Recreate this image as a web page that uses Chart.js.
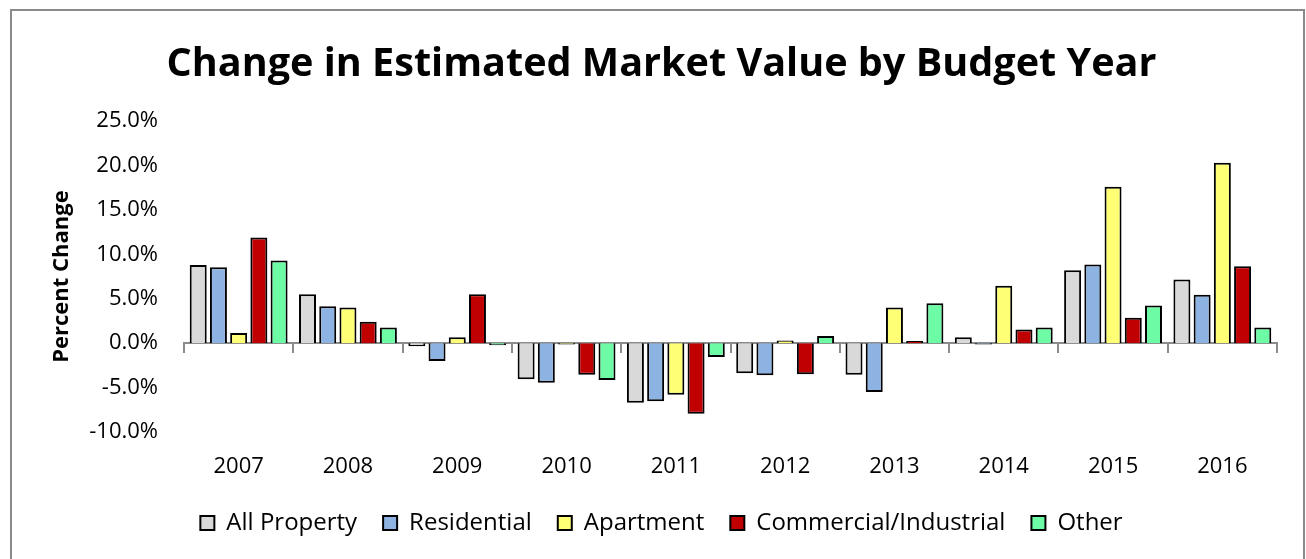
<!DOCTYPE html>
<html>
<head>
<meta charset="utf-8">
<script src="https://cdn.jsdelivr.net/npm/chart.js@4.4.1/dist/chart.umd.min.js"></script>
<style>
  html, body { margin: 0; padding: 0; background: #fff; }
  #wrap { position: absolute; left: 0; top: 0; width: 1306px; height: 559px; }
  #frame { position: absolute; left: 10px; top: 9px; width: 1291px; height: 560px;
           border: 2px solid #8a8a8a; border-bottom: none; pointer-events: none; }
</style>
</head>
<body>
<div id="wrap"><canvas id="c" width="1306" height="559"></canvas></div>
<div id="frame"></div>
<script>
const years = ['2007','2008','2009','2010','2011','2012','2013','2014','2015','2016'];
const allProperty = [8.8, 5.5, -0.35, -4.05, -6.7, -3.4, -3.55, 0.65, 8.2, 7.15];
const residential = [8.55, 4.15, -2.0, -4.45, -6.55, -3.6, -5.5, -0.15, 8.85, 5.45];
const apartment = [1.15, 4.0, 0.65, -0.15, -5.8, 0.3, 4.0, 6.45, 17.6, 20.3];
const commercial = [11.9, 2.4, 5.5, -3.55, -7.95, -3.5, 0.25, 1.55, 2.85, 8.65];
const other = [9.3, 1.75, -0.25, -4.15, -1.55, 0.8, 4.5, 1.75, 4.25, 1.75];
const seriesNames = ['All Property','Residential','Apartment','Commercial/Industrial','Other'];
const yTicks = [-10, -5, 0, 5, 10, 15, 20, 25];

const colors = ['#d9d9d9', '#8db3e2', '#ffff75', '#c00000', '#6efba6'];
const FONT = "'Open Sans', 'Noto Sans', sans-serif";

const seriesData = [allProperty, residential, apartment, commercial, other];
const datasets = seriesData.map((d, i) => ({
  label: seriesNames[i],
  data: d,
  backgroundColor: colors[i],
  borderColor: '#000',
  borderWidth: 2,
  categoryPercentage: 0.925,
  barPercentage: 0.84,
  xAxisID: 'x',
  yAxisID: 'y'
}));

new Chart(document.getElementById('c'), {
  type: 'bar',
  data: { labels: years, datasets },
  options: {
    responsive: false,
    animation: false,
    layout: { padding: { left: 17, right: 0, top: 0, bottom: 14 } },
    plugins: {
      title: {
        display: true,
        text: 'Change in Estimated Market Value by Budget Year',
        color: '#000',
        font: { family: FONT, size: 39.6, weight: 'bold', lineHeight: 1.2 },
        padding: { top: 41, bottom: 32.5 }
      },
      legend: {
        position: 'bottom',
        labels: {
          color: '#000',
          font: { family: FONT, size: 24 },
          boxWidth: 14,
          boxHeight: 14,
          padding: 26
        }
      },
      tooltip: { enabled: false }
    },
    scales: {
      x: {
        type: 'category',
        position: 'bottom',
        grid: { display: false, drawTicks: false },
        border: { display: false },
        ticks: { color: '#000', font: { family: FONT, size: 22 }, padding: 22, maxRotation: 0 },
        afterFit: (s) => { s.height = 53; }
      },
      x0: {
        type: 'category',
        position: { y: 0 },
        z: 1,
        grid: { offset: true, drawOnChartArea: false, drawTicks: true, tickLength: 9, color: '#8c8c8c', lineWidth: 2 },
        border: { display: true, color: '#8c8c8c', width: 2 },
        ticks: { display: false }
      },
      y: {
        position: 'left',
        min: -10,
        max: 25,
        afterBuildTicks: (s) => { s.ticks = yTicks.map(v => ({ value: v })); },
        grid: { display: false, drawTicks: false },
        border: { display: false },
        ticks: {
          color: '#000',
          font: { family: FONT, size: 22 },
          padding: 26,
          callback: (v) => Number(v).toFixed(1) + '%'
        },
        title: {
          display: true,
          text: 'Percent Change',
          color: '#000',
          font: { family: FONT, size: 22, weight: 'bold', lineHeight: 1.2 },
          padding: { top: 32, bottom: 0 }
        },
        afterFit: (s) => { s.width = 167; }
      },
      y2: {
        position: 'right',
        min: -10,
        max: 25,
        grid: { display: false, drawTicks: false },
        border: { display: false },
        ticks: { display: false },
        afterFit: (s) => { s.width = 29; }
      }
    }
  }
});
</script>
</body>
</html>
